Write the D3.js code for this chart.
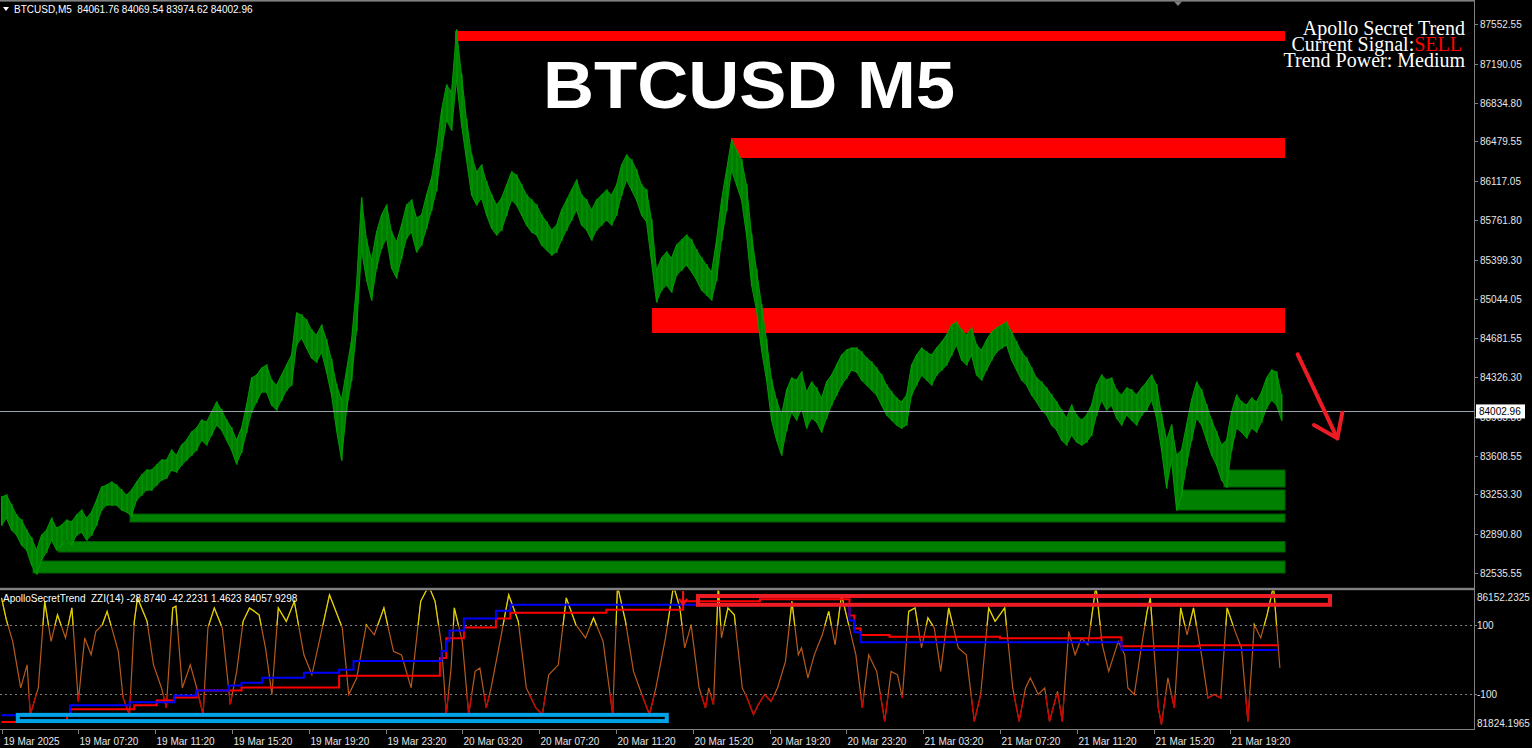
<!DOCTYPE html>
<html><head><meta charset="utf-8">
<script src="https://cdn.jsdelivr.net/npm/d3@7"></script>
<style>html,body{margin:0;padding:0;background:#000;overflow:hidden}</style>
</head><body>
<svg id="c" width="1532" height="748"></svg>
<script>
// ---------------- DATA ----------------
const symbolHeader = "BTCUSD,M5  84061.76 84069.54 83974.62 84002.96";
const indicatorHeader = "ApolloSecretTrend  ZZI(14) -28.8740 -42.2231 1.4623 84057.9298";
const chartTitle = "BTCUSD M5";
const infoLines = ["Apollo Secret Trend", "Current Signal:", "Trend Power: Medium"];
const signalText = "SELL";

const priceTicks = [87552.55, 87190.05, 86834.80, 86479.55, 86117.05, 85761.80, 85399.30, 85044.05,
  84681.55, 84326.30, 83963.80, 83608.55, 83253.30, 82890.80, 82535.55];
const timeLabels = ["19 Mar 2025","19 Mar 07:20","19 Mar 11:20","19 Mar 15:20","19 Mar 19:20","19 Mar 23:20",
  "20 Mar 03:20","20 Mar 07:20","20 Mar 11:20","20 Mar 15:20","20 Mar 19:20","20 Mar 23:20",
  "21 Mar 03:20","21 Mar 07:20","21 Mar 11:20","21 Mar 15:20","21 Mar 19:20"];
const TICK_EVERY_BARS = 48;
const TOTAL_BARS = 800;
const SAMPLE_BARS = 3.125;   // bars between consecutive high/low samples

const priceHigh = [83229,83248,83156,83065,83019,82928,82855,82745,82882,82928,
83037,82946,82973,83019,83001,83065,83111,83037,83092,83202,
83321,83339,83366,83339,83293,83248,83293,83366,83430,83476,
83476,83522,83568,83568,83659,83613,83705,83750,83824,83860,
83933,83915,84006,84098,84025,83933,83860,83750,83860,84070,
84317,84344,84408,84436,84299,84253,84344,84436,84527,84911,
84893,84847,84756,84710,84801,84664,84482,84253,84116,84390,
84664,85167,85962,85578,85396,85651,85807,85898,85651,85560,
85715,85898,85944,85779,85807,85990,86145,86401,86767,86995,
86931,87498,87087,86675,86355,86200,86264,86109,85990,85898,
85962,86081,86200,86172,86081,85990,85944,85898,85807,85743,
85670,85715,85853,85944,86035,86127,85990,85944,85853,85944,
85990,86035,85990,86081,86264,86355,86310,86218,86081,86035,
85761,85304,85414,85469,85414,85533,85578,85624,85578,85487,
85414,85350,85286,85578,85944,86218,86492,86401,86310,86081,
85624,85304,84984,84664,84299,84116,83979,84207,84317,84299,
84372,84189,84280,84226,84134,84280,84344,84436,84527,84573,
84591,84591,84555,84500,84463,84408,84344,84253,84189,84134,
84098,84162,84436,84527,84591,84555,84527,84591,84646,84710,
84801,84829,84756,84710,84774,84619,84573,84664,84737,84774,
84801,84829,84737,84646,84555,84500,84408,84317,84280,84226,
84162,84098,84025,83951,84070,83979,83933,83979,84070,84253,
84344,84299,84317,84207,84162,84226,84207,84162,84226,84280,
84344,84253,83979,83750,83887,83613,83659,83887,84116,84280,
84207,84070,83933,83824,83705,83750,84006,84162,84098,84070,
84134,84098,84189,84317,84390,84372,84162];
const priceLow = [82973,83037,82928,82882,82791,82745,82608,82526,82654,82727,
82836,82745,82791,82836,82791,82882,82909,82836,82882,82973,
83111,83156,83156,83156,83111,83092,83056,83202,83248,83293,
83293,83339,83385,83403,83476,83458,83522,83568,83613,83659,
83750,83705,83796,83887,83842,83750,83659,83531,83641,83824,
84006,84098,84189,84189,84070,84025,84116,84207,84253,84619,
84683,84591,84500,84463,84555,84372,84162,83842,83568,84025,
84299,84756,85487,85213,85030,85322,85505,85597,85322,85231,
85414,85597,85651,85469,85533,85688,85853,86035,86401,86675,
86584,87041,86630,86310,85990,85898,85962,85807,85688,85624,
85670,85807,85944,85898,85807,85715,85651,85624,85533,85487,
85441,85469,85578,85670,85761,85853,85715,85670,85578,85670,
85715,85761,85715,85807,85990,86127,86035,85944,85807,85743,
85377,85012,85121,85167,85103,85258,85304,85350,85286,85213,
85121,85076,85030,85213,85578,85853,86218,86081,85944,85624,
85167,84939,84573,84299,83933,83750,83613,83842,84006,83933,
84043,83860,83951,83915,83824,83951,84070,84162,84253,84317,
84390,84372,84299,84253,84207,84162,84070,83979,83933,83887,
83860,83887,84162,84253,84344,84299,84253,84344,84390,84436,
84527,84619,84482,84436,84527,84344,84299,84390,84482,84555,
84591,84619,84482,84390,84299,84253,84162,84098,84025,83979,
83887,83842,83750,83705,83796,83732,83705,83732,83796,83979,
84116,84025,84070,83951,83887,83979,83933,83887,83979,84025,
84116,83951,83659,83312,83568,83111,83248,83522,83750,83951,
83887,83750,83613,83522,83385,83321,83659,83860,83824,83769,
83860,83824,83915,84043,84116,84070,83933];
const lastPrice = 84002.96;

// supply (red) and demand (green) zones: start bar, top price, bottom price
const ZONE_END_BAR = 802.2;
const supplyZones = [
  {start: 283.4, top: 87488.6, bottom: 87397.2},
  {start: 456.0, top: 86510.7, bottom: 86327.9},
  {start: 406.6, top: 84957.1, bottom: 84728.6}];
const demandZones = [
  {start: 734.7, top: 83293.8, bottom: 83111.0},
  {start: 764.0, top: 83476.6, bottom: 83321.2},
  {start: 80.3, top: 83074.4, bottom: 83001.3},
  {start: 35.3, top: 82823.1, bottom: 82727.2},
  {start: 19.7, top: 82644.9, bottom: 82535.2}];

// oscillator (bar index, value)
const oscIdx = [0,3,7,12,16,18,23,27,31,35,40,44,48,52,56,59,63,66,73,76,80,83,85,91,95,100,103,107,109,113,
118,122,126,129,133,138,143,147,151,155,161,165,169,173,178,183,189,194,200,205,213,217,222,228,233,239,245,250,256,262,
267,271,275,278,281,283,288,292,296,299,303,306,312,317,323,328,334,338,342,348,353,359,365,370,376,382,385,390,395,401,
405,409,415,420,424,427,431,436,440,442,445,448,450,454,458,463,466,470,473,477,481,485,490,494,498,500,504,508,513,517,
521,525,529,534,538,542,547,552,556,560,563,567,571,575,579,583,587,592,598,603,608,612,617,621,627,632,636,640,643,648,
652,655,660,663,667,671,675,679,684,688,692,698,702,704,708,712,716,718,723,725,729,733,737,741,745,750,754,758,762,766,
771,775,779,783,787,791,795,799];
const oscVal = [180,117,54,-81,-14,-158,-81,170,54,131,64,151,-120,64,15,83,102,141,25,-110,-158,112,180,112,-14,-81,-139,151,156,-81,
-14,-81,-158,93,151,93,-129,-33,112,151,131,35,-100,151,112,170,15,-43,83,189,93,-100,-52,102,73,151,25,15,-81,170,
215,170,44,-158,-23,151,54,-158,-33,-23,-139,-81,64,189,112,-81,-139,-158,-43,-14,180,102,64,122,54,-158,215,112,-33,-110,
-158,-81,64,215,151,35,102,-81,-139,-81,-129,215,64,151,131,-81,-110,-158,-129,-100,-120,-81,-4,170,15,35,-52,15,73,141,
44,189,112,15,-139,15,-33,-178,-33,-43,-110,141,151,35,122,93,-33,151,35,15,-178,-100,151,112,151,-81,-178,-81,-52,-100,
-81,-178,-91,-178,83,15,64,44,215,44,-33,54,15,-81,-100,25,141,180,-139,-187,-52,-139,151,73,151,15,-110,-100,-110,151,
83,35,-178,102,64,131,215,-23];
const oscLevels = [100, -100];

// trend lines in indicator window (step lines: bar index, price)
const blueIdx = [0,43,80,108,122,142,150,163,189,211,220,275,278,280,289,309,318,530,533,537,700,798];
const blueVal = [82203,82519,82614,82835,82993,83151,83246,83404,83562,83657,83941,84257,84573,84921,85300,85553,85742,85237,84858,84542,84289,84289];
const redIdx = [0,41,43,83,97,108,122,150,211,274,278,289,309,318,378,426,474,530,533,537,555,624,687,700,748,798];
const redVal = [81982,82203,82393,82519,82677,82772,82993,83088,83467,84036,84668,85016,85300,85490,85584,85853,85916,85395,84984,84772,84716,84668,84700,84415,84447,84447];
const indMax = 86152.2325, indMin = 81824.1965;

// hand-drawn annotations
const bigArrow = {i0: 810.1, p0: 84533.9, i1: 834.9, p1: 83766.2, hl: [820.3, 83887.9], hr: [838.0, 84000.2]};
const annotationBoxes = [
  {i0: 10.2, i1: 415.8, v0: -159, v1: -177, color: "#00a2e8"},
  {i0: 435.3, i1: 830.3, v0: 185.5, v1: 160, color: "#ed1c24"}];
const signalArrow = {i: 426, vTop: 200, vBot: 160};

// ---------------- DRAW ----------------
const svg = d3.select("#c");
const PLOT_R = 1474;
const FONT = "'Liberation Sans', Arial, sans-serif";
const GRID = "#808080";

const x = d3.scaleLinear().domain([0, TOTAL_BARS]).range([1.5, 1281.5]);
const yMain = d3.scaleLinear().domain([82535.55, 87552.55]).range([573, 24]);
const yOsc = d3.scaleLinear().domain([-100, 100]).range([694.5, 625.5]);
const yInd = d3.scaleLinear().domain([indMin, indMax]).range([727, 592]);

svg.append("rect").attr("width", 1532).attr("height", 748).attr("fill", "#000");

const defs = svg.append("defs");
defs.append("clipPath").attr("id", "cMain").append("rect").attr("x", 0).attr("y", 2).attr("width", PLOT_R).attr("height", 585.5);
defs.append("clipPath").attr("id", "cInd").append("rect").attr("x", 0).attr("y", 590.5).attr("width", PLOT_R).attr("height", 138.5);
defs.append("clipPath").attr("id", "cYel").append("rect").attr("x", 0).attr("y", 590.5).attr("width", PLOT_R).attr("height", yOsc(100) - 590.5);
defs.append("clipPath").attr("id", "cRed").append("rect").attr("x", 0).attr("y", yOsc(-100)).attr("width", PLOT_R).attr("height", 729 - yOsc(-100));

// ---- main panel ----
const gMain = svg.append("g").attr("clip-path", "url(#cMain)");
const zone = (g, z, fill, stroke) => g.append("rect")
  .attr("x", x(z.start)).attr("width", x(ZONE_END_BAR) - x(z.start))
  .attr("y", yMain(z.top)).attr("height", yMain(z.bottom) - yMain(z.top))
  .attr("fill", fill).attr("stroke", stroke).attr("stroke-width", 1);
supplyZones.forEach(z => zone(gMain, z, "#ff0000", "none"));
demandZones.forEach(z => zone(gMain, z, "#008000", "#005c00"));

const samples = priceHigh.map((h, k) => ({i: k * SAMPLE_BARS, h: h, l: priceLow[k]}));
gMain.append("path").datum(samples)
  .attr("d", d3.area().x(d => x(d.i)).y0(d => yMain(d.l)).y1(d => yMain(d.h)))
  .attr("fill", "#007c00").attr("stroke", "#00a400").attr("stroke-width", 0.9);
gMain.selectAll("line.bar").data(samples).join("line").attr("class", "bar")
  .attr("x1", d => x(d.i) + 0.5).attr("x2", d => x(d.i) + 0.5)
  .attr("y1", d => yMain(d.h) - 1).attr("y2", d => yMain(d.l) + 1)
  .attr("stroke", "#00a000").attr("stroke-width", 1);

// current price line
gMain.append("line").attr("x1", 0).attr("x2", PLOT_R).attr("y1", Math.round(yMain(lastPrice)) - 0.5).attr("y2", Math.round(yMain(lastPrice)) - 0.5)
  .attr("stroke", "#9aa2ac").attr("stroke-width", 1);

// big annotation arrow
const ga = gMain.append("g").attr("stroke", "#ed1c24").attr("stroke-width", 4).attr("stroke-linecap", "round").attr("fill", "none");
ga.append("line").attr("x1", x(bigArrow.i0)).attr("y1", yMain(bigArrow.p0)).attr("x2", x(bigArrow.i1)).attr("y2", yMain(bigArrow.p1));
ga.append("polyline").attr("points", [[x(bigArrow.hl[0]), yMain(bigArrow.hl[1])], [x(bigArrow.i1), yMain(bigArrow.p1)], [x(bigArrow.hr[0]), yMain(bigArrow.hr[1])]].map(p => p.join(",")).join(" "))
  .attr("stroke-linejoin", "round");

// title
svg.append("text").attr("x", 543).attr("y", 108).text(chartTitle)
  .attr("font-family", FONT).attr("font-weight", "bold").attr("font-size", 66)
  .attr("textLength", 412).attr("lengthAdjust", "spacingAndGlyphs").attr("fill", "#fff");

// info block
const info = svg.append("g").attr("font-family", "'Liberation Serif', 'Times New Roman', serif").attr("font-size", 20).attr("fill", "#fff").attr("text-anchor", "end");
info.append("text").attr("x", 1465).attr("y", 35).text(infoLines[0]);
const sellT = info.append("text").attr("x", 1462).attr("y", 51).attr("fill", "#ff0000").text(signalText);
const sellW = sellT.node().getComputedTextLength();
info.append("text").attr("x", 1462 - sellW).attr("y", 51).text(infoLines[1]);
info.append("text").attr("x", 1465).attr("y", 66.5).text(infoLines[2]);

// header
svg.append("path").attr("d", "M3,7 L9,7 L6,11 Z").attr("fill", "#fff");
svg.append("text").attr("x", 14).attr("y", 13).text(symbolHeader)
  .attr("font-family", FONT).attr("font-size", 10).attr("fill", "#fff").style("white-space", "pre");

// ---- indicator panel ----
const gInd = svg.append("g").attr("clip-path", "url(#cInd)");
oscLevels.forEach(v => gInd.append("line").attr("x1", 0).attr("x2", PLOT_R).attr("y1", yOsc(v)).attr("y2", yOsc(v))
  .attr("stroke", GRID).attr("stroke-dasharray", "2,3").attr("stroke-width", 1));

const oscPts = oscIdx.map((i, k) => ({i: i, v: oscVal[k]}));
const oscLine = d3.line().x(d => x(d.i)).y(d => yOsc(d.v));
gInd.append("path").datum(oscPts).attr("d", oscLine).attr("fill", "none").attr("stroke", "#b85a1c").attr("stroke-width", 1.2);
gInd.append("g").attr("clip-path", "url(#cYel)").append("path").datum(oscPts).attr("d", oscLine).attr("fill", "none").attr("stroke", "#d8d800").attr("stroke-width", 1.2);
gInd.append("g").attr("clip-path", "url(#cRed)").append("path").datum(oscPts).attr("d", oscLine).attr("fill", "none").attr("stroke", "#d00000").attr("stroke-width", 1.2);

const stepLine = d3.line().x(d => x(d.i)).y(d => yInd(d.v)).curve(d3.curveStepAfter);
gInd.append("path").datum(redIdx.map((i, k) => ({i: i, v: redVal[k]}))).attr("d", stepLine).attr("fill", "none").attr("stroke", "#ff0000").attr("stroke-width", 2);
gInd.append("path").datum(blueIdx.map((i, k) => ({i: i, v: blueVal[k]}))).attr("d", stepLine).attr("fill", "none").attr("stroke", "#0000ff").attr("stroke-width", 2);

// signal arrow
const sa = gInd.append("g").attr("stroke", "#ff1010").attr("stroke-width", 2).attr("fill", "none");
sa.append("line").attr("x1", x(signalArrow.i)).attr("x2", x(signalArrow.i)).attr("y1", yOsc(signalArrow.vTop)).attr("y2", yOsc(signalArrow.vBot));
sa.append("polyline").attr("points", `${x(signalArrow.i) - 4},${yOsc(signalArrow.vBot) - 6} ${x(signalArrow.i)},${yOsc(signalArrow.vBot)} ${x(signalArrow.i) + 4},${yOsc(signalArrow.vBot) - 6}`);

// annotation boxes
annotationBoxes.forEach(b => gInd.append("rect")
  .attr("x", x(b.i0)).attr("width", x(b.i1) - x(b.i0))
  .attr("y", yOsc(b.v0)).attr("height", yOsc(b.v1) - yOsc(b.v0))
  .attr("fill", "none").attr("stroke", b.color).attr("stroke-width", 4));

svg.append("text").attr("x", 3).attr("y", 601.5).text(indicatorHeader)
  .attr("font-family", FONT).attr("font-size", 10).attr("fill", "#fff").style("white-space", "pre");

// ---- frames ----
svg.append("rect").attr("x", 0).attr("y", 0).attr("width", PLOT_R + 1).attr("height", 1.6).attr("fill", GRID);
svg.append("path").attr("d", "M1174,1.5 L1182,1.5 L1178,6 Z").attr("fill", GRID);
svg.append("rect").attr("x", 0).attr("y", 587.8).attr("width", PLOT_R + 1).attr("height", 2.4).attr("fill", GRID);
svg.append("line").attr("x1", PLOT_R + 0.5).attr("x2", PLOT_R + 0.5).attr("y1", 0).attr("y2", 730).attr("stroke", GRID);
svg.append("line").attr("x1", 0).attr("x2", PLOT_R + 1).attr("y1", 729.5).attr("y2", 729.5).attr("stroke", GRID);

// ---- y axis (main) ----
const yAxisG = svg.append("g").attr("font-family", FONT).attr("font-size", 10).attr("fill", "#e6e6e6");
const ly = yMain(lastPrice);
priceTicks.forEach(p => {
  const yy = Math.round(yMain(p)) + 0.5;
  yAxisG.append("line").attr("x1", PLOT_R).attr("x2", PLOT_R + 4).attr("y1", yy).attr("y2", yy).attr("stroke", GRID);
  yAxisG.append("text").attr("x", 1480).attr("y", yy + 3.5).text(d3.format(".2f")(p));
});
// last price label (drawn over the axis label it hides, as in the terminal)
svg.append("rect").attr("x", 1476).attr("y", ly - 8).attr("width", 49).attr("height", 14).attr("fill", "#fff");
svg.append("text").attr("x", 1479).attr("y", ly + 3).text(d3.format(".2f")(lastPrice))
  .attr("font-family", FONT).attr("font-size", 10).attr("fill", "#000");

// ---- y axis (indicator) ----
const indAxis = svg.append("g").attr("font-family", FONT).attr("font-size", 10).attr("fill", "#e6e6e6");
indAxis.append("text").attr("x", 1477).attr("y", yInd(indMax) + 9).text(indMax.toFixed(4));
indAxis.append("text").attr("x", 1477).attr("y", yInd(indMin)).text(indMin.toFixed(4));
oscLevels.forEach(v => {
  indAxis.append("line").attr("x1", PLOT_R).attr("x2", PLOT_R + 3).attr("y1", yOsc(v)).attr("y2", yOsc(v)).attr("stroke", GRID);
  indAxis.append("text").attr("x", 1477).attr("y", yOsc(v) + 3.5).text(String(v));
});

// ---- x axis ----
const xAxisG = svg.append("g").attr("font-family", FONT).attr("font-size", 10).attr("fill", "#e6e6e6");
timeLabels.forEach((t, k) => {
  const xx = Math.round(x(k * TICK_EVERY_BARS)) + 0.5;
  xAxisG.append("line").attr("x1", xx).attr("x2", xx).attr("y1", 730).attr("y2", 734).attr("stroke", GRID);
  xAxisG.append("text").attr("x", xx + 1).attr("y", 745).text(t);
});
</script>
</body></html>
